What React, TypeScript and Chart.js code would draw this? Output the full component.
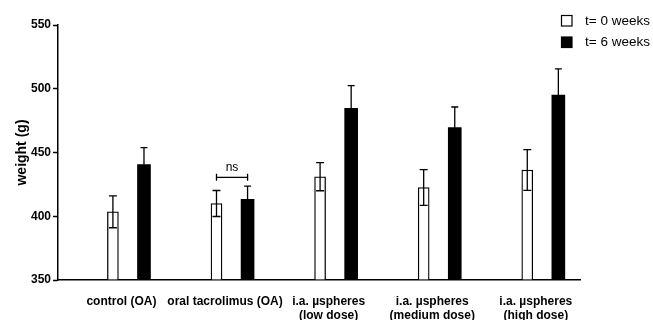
import React, { useEffect, useRef } from "react";
import { Chart, registerables } from "chart.js";

Chart.register(...registerables);

const categories: (string | string[])[] = [
  "control (OA)",
  "oral tacrolimus (OA)",
  ["i.a. µspheres", "(low dose)"],
  ["i.a. µspheres", "(medium dose)"],
  ["i.a. µspheres", "(high dose)"],
];
const seriesNames = ["t= 0 weeks", "t= 6 weeks"];
const week0 = [403.5, 410, 431, 422.5, 436.3];
const week0Err = [12.5, 10.2, 11, 14, 16];
const week6 = [440.5, 413.3, 484.6, 469.5, 495];
const week6Err = [13.3, 10.4, 17.8, 16.2, 20.6];
const yTicks = [350, 400, 450, 500, 550];
const nsGroup = 1;
const nsLevel = 430.5;

const FONT = "'Liberation Sans', Arial, Helvetica, sans-serif";
const GROUP_OFFSET = 0.15;

export default function App() {
  const ref = useRef<HTMLCanvasElement>(null);

  useEffect(() => {
    if (!ref.current) return;
    const errs = [week0Err, week6Err];
    const vals = [week0, week6];

    const errorBars = {
      id: "errorBars",
      afterDatasetsDraw(chart: any) {
        const ctx = chart.ctx;
        const y = chart.scales.y;
        ctx.save();
        ctx.strokeStyle = "#000";
        ctx.lineWidth = 1.3;
        chart.data.datasets.forEach((ds: any, di: number) => {
          const meta = chart.getDatasetMeta(di);
          meta.data.forEach((bar: any, i: number) => {
            const v = vals[di][i];
            const e = errs[di][i];
            const top = y.getPixelForValue(v + e);
            const bot = y.getPixelForValue(v - e);
            const cap = di === 0 ? 4 : 3.5;
            ctx.beginPath();
            ctx.moveTo(bar.x, top);
            ctx.lineTo(bar.x, bot);
            ctx.moveTo(bar.x - cap, top);
            ctx.lineTo(bar.x + cap, top);
            ctx.moveTo(bar.x - cap, bot);
            ctx.lineTo(bar.x + cap, bot);
            ctx.stroke();
          });
        });
        // ns bracket
        const xs = chart.scales.x;
        const x1 = xs.getPixelForValue(nsGroup - GROUP_OFFSET);
        const x2 = xs.getPixelForValue(nsGroup + GROUP_OFFSET);
        const yy = y.getPixelForValue(nsLevel);
        ctx.beginPath();
        ctx.moveTo(x1, yy);
        ctx.lineTo(x2, yy);
        ctx.moveTo(x1, yy - 3.5);
        ctx.lineTo(x1, yy + 3.5);
        ctx.moveTo(x2, yy - 3.5);
        ctx.lineTo(x2, yy + 3.5);
        ctx.stroke();
        ctx.fillStyle = "#000";
        ctx.font = `12px ${FONT}`;
        ctx.textAlign = "center";
        ctx.textBaseline = "alphabetic";
        ctx.fillText("ns", (x1 + x2) / 2, yy - 6.5);
        ctx.restore();
      },
    };

    const customLegend = {
      id: "customLegend",
      afterDraw(chart: any) {
        const ctx = chart.ctx;
        ctx.save();
        const items = chart.data.datasets;
        items.forEach((ds: any, i: number) => {
          const bx = 561.5;
          const by = 15.5 + i * 21.5;
          ctx.fillStyle = ds.backgroundColor;
          ctx.fillRect(bx, by, 10.5, 10.5);
          ctx.strokeStyle = "#000";
          ctx.lineWidth = 1.2;
          ctx.strokeRect(bx, by, 10.5, 10.5);
          ctx.fillStyle = "#000";
          ctx.font = `13.5px ${FONT}`;
          ctx.textAlign = "left";
          ctx.textBaseline = "middle";
          ctx.fillText(ds.label, 585, by + 5.5);
        });
        ctx.restore();
      },
    };

    const chart = new Chart(ref.current, {
      type: "bar",
      data: {
        datasets: [
          {
            label: seriesNames[0],
            data: week0.map((v, i) => ({ x: i - GROUP_OFFSET, y: v })),
            backgroundColor: "#ffffff",
            borderColor: "#000000",
            borderWidth: 1.3,
            borderSkipped: "bottom",
            barThickness: 11,
            grouped: false,
            base: yTicks[0],
          } as any,
          {
            label: seriesNames[1],
            data: week6.map((v, i) => ({ x: i + GROUP_OFFSET, y: v })),
            backgroundColor: "#000000",
            borderColor: "#000000",
            borderWidth: 0,
            barThickness: 13,
            grouped: false,
            base: yTicks[0],
          } as any,
        ],
      },
      options: {
        animation: false,
        responsive: false,
        layout: { padding: { left: 0, right: 73, top: 25, bottom: 0 } },
        plugins: { legend: { display: false }, tooltip: { enabled: false } },
        scales: {
          x: {
            type: "linear",
            offset: false,
            min: -0.68,
            max: 4.359,
            afterBuildTicks: (scale: any) => {
              scale.ticks = categories.map((_, i) => ({ value: i }));
            },
            afterFit: (scale: any) => {
              scale.height = 40;
            },
            grid: { display: false, drawTicks: false },
            border: { display: true, color: "#000", width: 1.5 },
            ticks: {
              callback: (v: any) => categories[v as number],
              color: "#000",
              font: { family: FONT, size: 12, weight: "bold", lineHeight: 1.22 },
              padding: 14,
              labelOffset: -7,
              maxRotation: 0,
              autoSkip: false,
            },
          },
          y: {
            min: yTicks[0],
            max: yTicks[yTicks.length - 1],
            afterBuildTicks: (scale: any) => {
              scale.ticks = yTicks.map((v) => ({ value: v }));
            },
            afterFit: (scale: any) => {
              scale.width = 58;
            },
            grid: {
              drawOnChartArea: false,
              drawTicks: true,
              tickLength: 5,
              tickWidth: 1.5,
              tickColor: "#000",
            },
            border: { display: true, color: "#000", width: 1.5 },
            ticks: {
              color: "#000",
              font: { family: FONT, size: 12, weight: "bold" },
              padding: 2,
            },
            title: {
              display: true,
              text: "weight (g)",
              color: "#000",
              font: { family: FONT, size: 14, weight: "bold" },
              padding: { top: 13.5, bottom: 0 },
            },
          },
        },
      } as any,
      plugins: [errorBars, customLegend],
    });
    return () => chart.destroy();
  }, []);

  return (
    <div style={{ position: "fixed", left: 0, top: 0, width: 653, height: 320, background: "#fff" }}>
      <canvas ref={ref} width={653} height={320} style={{ display: "block" }} />
    </div>
  );
}
